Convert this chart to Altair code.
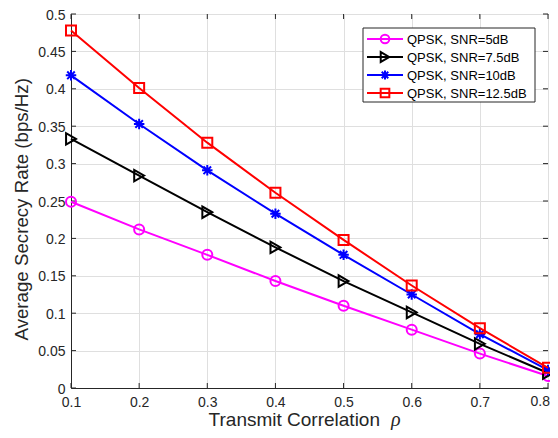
import altair as alt
import pandas as pd

rho = [0.1, 0.2, 0.3, 0.4, 0.5, 0.6, 0.7, 0.8]
snr5 = [0.249, 0.212, 0.178, 0.143, 0.110, 0.078, 0.046, 0.016]
snr75 = [0.333, 0.284, 0.235, 0.188, 0.143, 0.101, 0.059, 0.020]
snr10 = [0.418, 0.353, 0.291, 0.233, 0.178, 0.125, 0.072, 0.024]
snr125 = [0.478, 0.401, 0.328, 0.261, 0.198, 0.137, 0.080, 0.027]

labels = ["QPSK, SNR=5dB", "QPSK, SNR=7.5dB", "QPSK, SNR=10dB", "QPSK, SNR=12.5dB"]
colors = ["#FF00FF", "#000000", "#0000FF", "#FF0000"]
asterisk = "M-1,0L1,0M0,-1L0,1M-0.72,-0.72L0.72,0.72M-0.72,0.72L0.72,-0.72"
shapes = ["circle", "triangle-right", asterisk, "square"]
sizes = [100, 130, 110, 100]
series_values = [snr5, snr75, snr10, snr125]

x_ticks = [0.1, 0.2, 0.3, 0.4, 0.5, 0.6, 0.7, 0.8]
y_ticks = [0, 0.05, 0.1, 0.15, 0.2, 0.25, 0.3, 0.35, 0.4, 0.45, 0.5]

W, H = 477, 374
FONT = "Liberation Sans"
AX = "#262626"

xscale = alt.Scale(domain=[0.1, 0.8], nice=False, zero=False)
yscale = alt.Scale(domain=[0, 0.5], nice=False, zero=False)

xaxis = alt.Axis(values=x_ticks, grid=True, ticks=False, tickSize=0,
                 labelExpr="datum.value > 0.75 ? '' : format(datum.value, '.1f')",
                 labelPadding=7, labelFontSize=14, labelFont=FONT, labelColor=AX,
                 domainColor=AX, gridColor="#dfdfdf", title=None, labelFlush=False,
                 labelOverlap=False)
yaxis = alt.Axis(values=y_ticks, format=".2~f", grid=True, ticks=False, tickSize=0,
                 labelPadding=6, labelFontSize=14, labelFont=FONT, labelColor=AX,
                 labelOffset=1,
                 domainColor=AX, gridColor="#dfdfdf", labelFlush=False, labelOverlap=False,
                 title="Average Secrecy Rate (bps/Hz)", titleFont=FONT, titleFontSize=18.7,
                 titleFontWeight="normal", titleColor=AX, titleAngle=-90,
                 titleX=-44, titleY=326, titleAlign="left", titleBaseline="alphabetic")


def X(field):
    return alt.X(field, scale=xscale, axis=xaxis)


def Y(field):
    return alt.Y(field, scale=yscale, axis=yaxis)


layers = []

# inward ticks
xt = pd.DataFrame({"t": x_ticks})
yt = pd.DataFrame({"t": y_ticks})
layers.append(alt.Chart(xt).mark_rule(color=AX, strokeWidth=1).encode(
    x=X("t:Q"), y=alt.value(H), y2=alt.value(H - 5)))
layers.append(alt.Chart(xt).mark_rule(color=AX, strokeWidth=1).encode(
    x=X("t:Q"), y=alt.value(0), y2=alt.value(5)))
layers.append(alt.Chart(yt).mark_rule(color=AX, strokeWidth=1).encode(
    y=Y("t:Q"), x=alt.value(0), x2=alt.value(5)))
layers.append(alt.Chart(yt).mark_rule(color=AX, strokeWidth=1).encode(
    y=Y("t:Q"), x=alt.value(W), x2=alt.value(W - 5)))

# last x tick label, kept inside the page
last_df = pd.DataFrame({"t": [x_ticks[-1]], "s": ["0.8"]})
layers.append(alt.Chart(last_df).mark_text(align="right", baseline="top", font=FONT,
                                           fontSize=14, color=AX, dx=2).encode(
    x=X("t:Q"), y=alt.value(H + 7), text="s:N"))

for lab, col, shp, sz, vals in zip(labels, colors, shapes, sizes, series_values):
    df = pd.DataFrame({"rho": rho, "v": vals, "series": lab})
    layers.append(alt.Chart(df).mark_line(color=col, strokeWidth=2).encode(
        x=X("rho:Q"), y=Y("v:Q")))
    layers.append(alt.Chart(df).mark_point(shape=shp, size=sz, filled=False, color=col,
                                           strokeWidth=2, opacity=1).encode(
        x=X("rho:Q"), y=Y("v:Q")))

# legend
layers.append(alt.Chart(pd.DataFrame({"a": [0]})).mark_rect(
    fill="white", stroke=AX, strokeWidth=1).encode(
    x=alt.value(292), x2=alt.value(464), y=alt.value(14), y2=alt.value(88)))
row_y = [25, 43, 61, 79]
for lab, col, shp, sz, ry in zip(labels, colors, shapes, sizes, row_y):
    ldf = pd.DataFrame({"label": [lab]})
    layers.append(alt.Chart(ldf).mark_rule(color=col, strokeWidth=2).encode(
        x=alt.value(296), x2=alt.value(332), y=alt.value(ry)))
    layers.append(alt.Chart(ldf).mark_point(shape=shp, size=sz * 0.75, filled=False,
                                            color=col, strokeWidth=2, opacity=1).encode(
        x=alt.value(314), y=alt.value(ry)))
    layers.append(alt.Chart(ldf).mark_text(align="left", baseline="middle", font=FONT,
                                           fontSize=13, color="#000000").encode(
        x=alt.value(336), y=alt.value(ry + 1), text="label:N"))

# x title
tdf = pd.DataFrame({"t": ["Transmit Correlation"]})
layers.append(alt.Chart(tdf).mark_text(align="right", baseline="alphabetic", font=FONT,
                                       fontSize=19, color=AX).encode(
    x=alt.value(309), y=alt.value(412), text="t:N"))
rdf = pd.DataFrame({"t": ["ρ"]})
layers.append(alt.Chart(rdf).mark_text(align="left", baseline="alphabetic",
                                       font="Liberation Serif", fontStyle="italic",
                                       fontSize=20, color=AX).encode(
    x=alt.value(320), y=alt.value(412), text="t:N"))

chart = alt.layer(*layers).properties(
    width=W, height=H,
    autosize=alt.AutoSizeParams(type="none"),
    padding={"left": 63, "top": 6, "right": 2, "bottom": 42},
    background="white",
).configure_view(stroke=AX, strokeWidth=1)

chart.save("out.html", embed_options={"renderer": "svg", "actions": False})
